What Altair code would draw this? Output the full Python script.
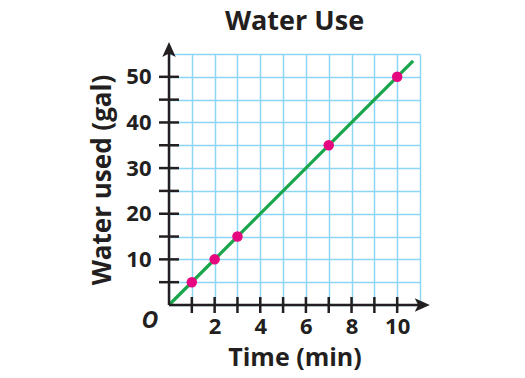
import altair as alt
import pandas as pd

# data
pts_x = [1, 2, 3, 7, 10]
pts_y = [5, 10, 15, 35, 50]
line_x = [0, 10.7]
line_y = [0, 53.5]
x_ticks = list(range(1, 11))
y_ticks = list(range(5, 55, 5))
x_grid = list(range(0, 12))
y_grid = list(range(0, 60, 5))
x_labels = [2, 4, 6, 8, 10]
y_labels = [10, 20, 30, 40, 50]
axis_line_x = [0, 0]
axis_line_y = [0, 0]
axis_line_x2 = [11.1, 0]
axis_line_y2 = [0, 56.0]
arrow_x = [11.1, 0]
arrow_y = [0, 56.0]
arrow_dir = ["right", "up"]

FONT = "Open Sans"
INK = "#231f20"
GRID = "#8dd5f6"

pts = pd.DataFrame({"x": pts_x, "y": pts_y})
ln = pd.DataFrame({"x": line_x, "y": line_y})
xt = pd.DataFrame({"x": x_ticks, "y": [0] * len(x_ticks)})
yt = pd.DataFrame({"x": [0] * len(y_ticks), "y": y_ticks})
axl = pd.DataFrame({"x": axis_line_x, "y": axis_line_y, "x2": axis_line_x2, "y2": axis_line_y2})
arr = pd.DataFrame({"x": arrow_x, "y": arrow_y, "d": arrow_dir})
origin = pd.DataFrame({"x": [0], "y": [0], "t": ["O"]})

xs = alt.Scale(domain=[0, 11], nice=False, zero=False)
ys = alt.Scale(domain=[0, 55], nice=False, zero=False)

xaxis = alt.Axis(
    values=x_grid, grid=True, gridColor=GRID, gridWidth=1.5, domain=False, ticks=False,
    labelExpr=f"indexof({x_labels}, datum.value) >= 0 ? datum.label : ''",
    labelOverlap=False, labelFont=FONT, labelFontSize=22, labelFontWeight="bold",
    labelColor=INK, labelPadding=11, title="Time (min)", titleFont=FONT,
    titleFontSize=25, titleFontWeight="bold", titleColor=INK, titlePadding=8,
)
yaxis = alt.Axis(
    values=y_grid, grid=True, gridColor=GRID, gridWidth=1.5, domain=False, ticks=False,
    labelExpr=f"indexof({y_labels}, datum.value) >= 0 ? datum.label : ''",
    labelOverlap=False, labelFont=FONT, labelFontSize=22, labelFontWeight="bold",
    labelColor=INK, labelPadding=18, title="Water used (gal)", titleFont=FONT,
    titleFontSize=26, titleFontWeight="bold", titleColor=INK, titlePadding=10,
)

X = lambda f="x": alt.X(f"{f}:Q", scale=xs, axis=xaxis)
Y = lambda f="y": alt.Y(f"{f}:Q", scale=ys, axis=yaxis)

base = alt.Chart(ln).mark_line(color="#1aa64a", strokeWidth=3.3).encode(x=X(), y=Y())

axes_lines = alt.Chart(axl).mark_rule(color=INK, strokeWidth=2.5).encode(
    x=X(), y=Y(), x2="x2:Q", y2="y2:Q"
)

up_path = "M0,-1 L0.9,1 L0,0.55 L-0.9,1 Z"
right_path = "M1,0 L-1,0.9 L-0.55,0 L-1,-0.9 Z"
arrows_up = alt.Chart(arr).transform_filter("datum.d == 'up'").mark_point(
    shape=up_path, filled=True, color=INK, size=225, opacity=1
).encode(x=X(), y=Y())
arrows_right = alt.Chart(arr).transform_filter("datum.d == 'right'").mark_point(
    shape=right_path, filled=True, color=INK, size=225, opacity=1
).encode(x=X(), y=Y())

xticks = alt.Chart(xt).mark_point(
    shape="M0,-1 L0,1", filled=False, color=INK, strokeWidth=2.5, size=256, opacity=1
).encode(x=X(), y=Y())
yticks = alt.Chart(yt).mark_point(
    shape="M-1,0 L1,0", filled=False, color=INK, strokeWidth=2.5, size=400, opacity=1
).encode(x=X(), y=Y())

points = alt.Chart(pts).mark_circle(color="#e6067f", size=110, opacity=1).encode(x=X(), y=Y())

olabel = alt.Chart(origin).mark_text(
    font=FONT, fontSize=23, fontWeight="bold", fontStyle="italic", color=INK, dx=-19, dy=16
).encode(x=X(), y=Y(), text="t:N")

chart = alt.layer(base, axes_lines, arrows_up, arrows_right, xticks, yticks, points, olabel).properties(
    width=251,
    height=251,
    padding={"left": 161, "top": 46, "right": 90, "bottom": 70},
    autosize="none",
    title=alt.TitleParams("Water Use", font=FONT, fontSize=27, fontWeight="bold", color=INK,
                          offset=6, anchor="middle", frame="group"),
).configure_view(stroke=None)

chart.save("out.html", embed_options={"renderer": "svg", "actions": False})
